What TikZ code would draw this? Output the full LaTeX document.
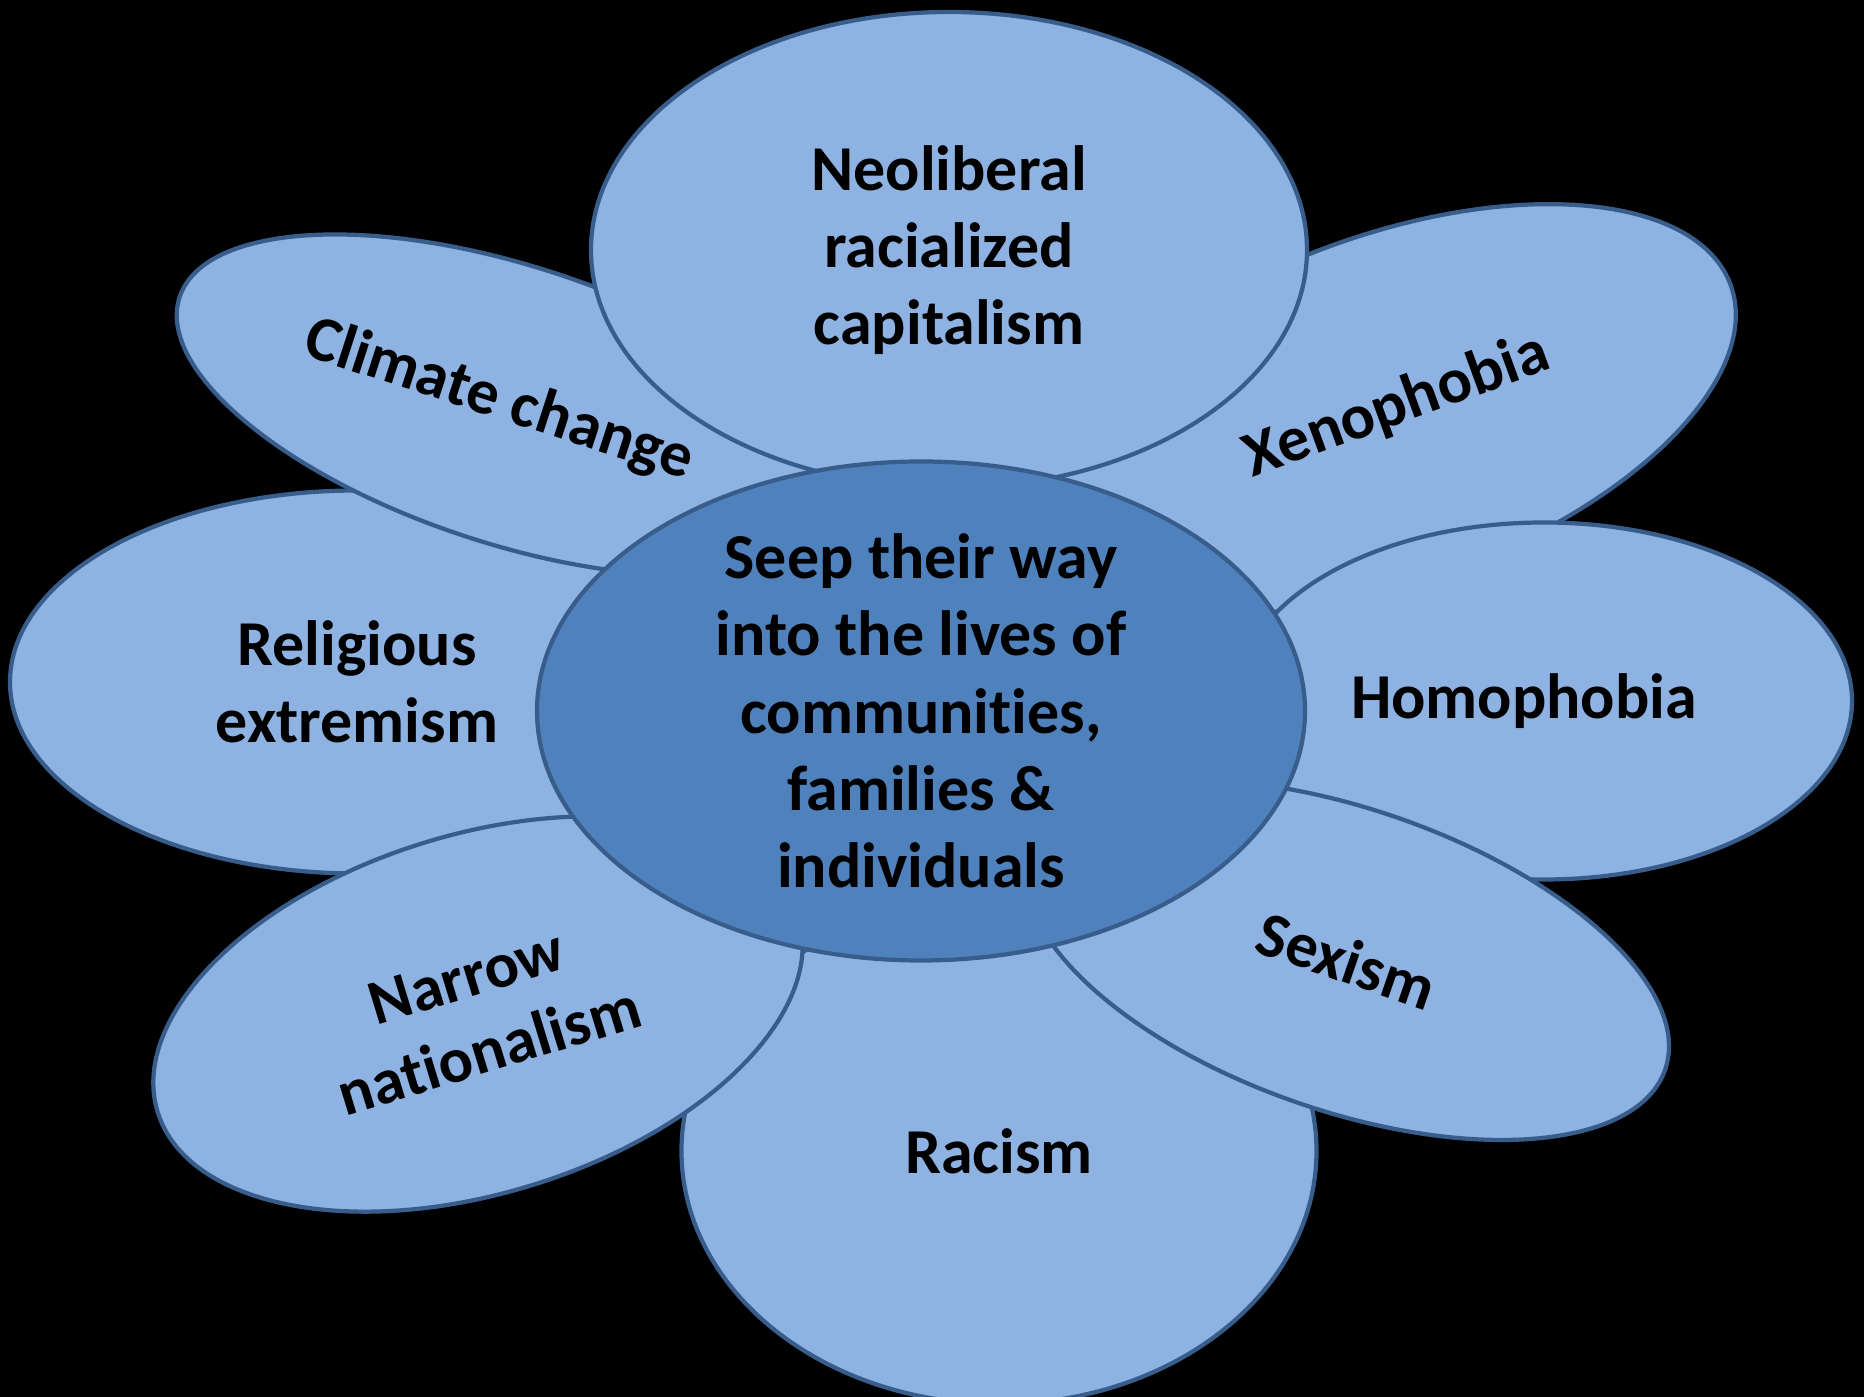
\documentclass[tikz,border=0pt]{standalone}
\usepackage{fontspec}
\setmainfont{Carlito}[Ligatures=NoCommon]
\usetikzlibrary{shapes.geometric}
\definecolor{petalblue}{RGB}{142,179,227}
\definecolor{heartblue}{RGB}{79,129,189}
\definecolor{petalline}{RGB}{56,93,138}

\begin{document}
\begin{tikzpicture}
        \tikzstyle{every node}=[font=\fontsize{18.2}{22}\selectfont\bfseries, align=center]
        \tikzstyle{petal}=[ellipse, draw=petalline, fill=petalblue, line width=1.2pt, inner sep=0pt]
        \tikzstyle{heart}=[petal, fill=heartblue, inner sep=-2pt]
        \useasboundingbox (0, 0) rectangle (18.64, 13.97);
        \fill[black] (0, 0) rectangle (18.64, 13.97);
        \node [petal, minimum width=6.94cm, minimum height=3.83cm] (rel) at (3.57, 7.15) {Religious\\extremism};
        \node [petal, minimum width=6.97cm, minimum height=2.78cm, rotate=-18] (clim) at (5.11, 9.92) {Climate change\hspace*{0.25cm}};
        \node [petal, minimum width=7.25cm, minimum height=3.47cm, rotate=20] (xeno) at (13.90, 9.88) {\hspace*{0.15cm}Xenophobia};
        \node [petal, minimum width=7.16cm, minimum height=4.76cm] (neo) at (9.49, 11.47) {Neoliberal\\racialized\\capitalism};
        \node [petal, minimum width=6.16cm, minimum height=3.57cm] (homo) at (15.44, 6.96) {Homophobia\hspace*{0.4cm}};
        \node [petal, minimum width=6.35cm, minimum height=5.06cm] (rac) at (9.99, 2.46) {\raisebox{-0.09cm}{Racism}};
        \node [petal, minimum width=6.73cm, minimum height=3.02cm, rotate=-19] (sex) at (13.47, 4.37) {Sexism};
        \node [petal, minimum width=6.70cm, minimum height=3.59cm, rotate=17] (nat) at (4.78, 3.83) {Narrow\\nationalism};
        \node [heart, minimum width=7.68cm, minimum height=4.99cm] (core) at (9.21, 6.86) {Seep their way\\into the lives of\\communities,\\families \&\\individuals};
\end{tikzpicture}
\end{document}
